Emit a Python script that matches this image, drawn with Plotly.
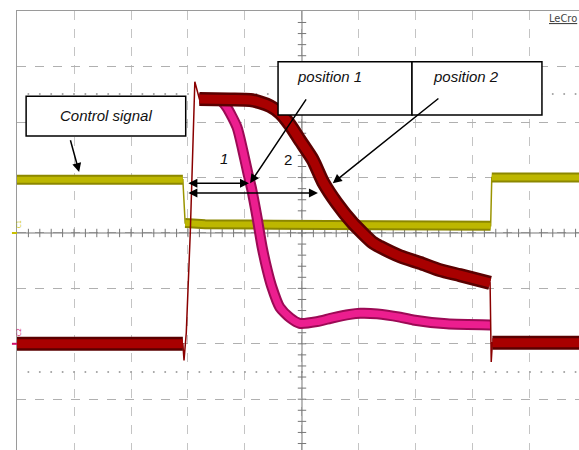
import numpy as np
import plotly.graph_objects as go

# All values in screen divisions: x from the left edge of the grid, y from the centre line
ctrl_high1_x = [0.0, 2.91]
ctrl_high1_y = [0.96, 0.96]
ctrl_low_x = [2.95, 3.3, 4.5, 6.0, 7.5, 8.31]
ctrl_low_y = [0.18, 0.16, 0.15, 0.14, 0.14, 0.13]
ctrl_high2_x = [8.33, 9.86]
ctrl_high2_y = [1.0, 1.0]

ch2_pre_x = [0.0, 2.91]
ch2_pre_y = [-2.0, -2.0]
ch2_rise_x = [2.91, 2.93, 2.97, 3.04, 3.12, 3.2]
ch2_rise_y = [-2.0, -2.3, -1.8, 0.0, 2.73, 2.42]
pos2_x = [3.2, 3.74, 4.09, 4.26, 4.44, 4.61, 4.79, 4.96, 5.19, 5.37, 5.61, 5.89,
          6.25, 6.37, 6.72, 7.07, 7.42, 7.77, 8.30]
pos2_y = [2.42, 2.41, 2.40, 2.36, 2.29, 2.17, 1.95, 1.68, 1.32, 0.92, 0.54, 0.18,
          -0.18, -0.25, -0.42, -0.54, -0.67, -0.76, -0.90]
ch2_drop_x = [8.30, 8.32, 8.34]
ch2_drop_y = [-0.90, -2.33, -1.98]
ch2_post_x = [8.34, 9.86]
ch2_post_y = [-1.98, -1.98]

pos1_x = [3.2, 3.56, 3.68, 3.86, 3.96, 4.05, 4.12, 4.21, 4.30, 4.39, 4.47, 4.61,
          4.79, 4.96, 5.26, 5.54, 5.84, 6.02, 6.32, 6.72, 6.95, 7.54, 8.30]
pos1_y = [2.42, 2.40, 2.27, 1.91, 1.50, 1.08, 0.78, 0.29, -0.25, -0.67, -0.97, -1.34,
          -1.53, -1.63, -1.60, -1.53, -1.47, -1.45, -1.46, -1.52, -1.57, -1.64, -1.66]

marker_levels = [2.51, -2.51]

X_MAX = 9.86
Y_MIN, Y_MAX = -3.917, 4.007


def join(*segs):
    xs, ys = [], []
    for sx, sy in segs:
        xs += list(sx) + [None]
        ys += list(sy) + [None]
    return xs, ys


fig = go.Figure()

# dotted marker levels
minor = np.arange(0.2, X_MAX, 0.2)
for lv in marker_levels:
    fig.add_trace(go.Scatter(x=minor, y=[lv] * len(minor), mode="markers",
                             marker=dict(size=2, color="#a0a0a0"), hoverinfo="skip"))

# centre axes with minor ticks
fig.add_trace(go.Scatter(x=[0, X_MAX], y=[0, 0], mode="lines",
                         line=dict(color="#777777", width=1), hoverinfo="skip"))
fig.add_trace(go.Scatter(x=minor, y=[0] * len(minor), mode="markers",
                         marker=dict(symbol="line-ns", size=6, line=dict(width=1, color="#777777")),
                         hoverinfo="skip"))
fig.add_trace(go.Scatter(x=[5, 5], y=[Y_MIN, Y_MAX], mode="lines",
                         line=dict(color="#777777", width=1), hoverinfo="skip"))
yminor = np.arange(-3.8, 4.0, 0.2)
fig.add_trace(go.Scatter(x=[5] * len(yminor), y=yminor, mode="markers",
                         marker=dict(symbol="line-ew", size=6, line=dict(width=1, color="#777777")),
                         hoverinfo="skip"))

# Control signal (yellow)
cx, cy = join((ctrl_high1_x, ctrl_high1_y), (ctrl_low_x, ctrl_low_y), (ctrl_high2_x, ctrl_high2_y))
tx = ctrl_high1_x + ctrl_low_x + ctrl_high2_x
ty = ctrl_high1_y + ctrl_low_y + ctrl_high2_y
fig.add_trace(go.Scatter(x=tx, y=ty, mode="lines", line=dict(color="#9a9400", width=1.5), hoverinfo="skip"))
fig.add_trace(go.Scatter(x=cx, y=cy, mode="lines", line=dict(color="#8c8700", width=10), hoverinfo="skip"))
fig.add_trace(go.Scatter(x=cx, y=cy, mode="lines", line=dict(color="#bdb700", width=6), hoverinfo="skip"))

# position 1 (magenta)
fig.add_trace(go.Scatter(x=pos1_x, y=pos1_y, mode="lines", line=dict(color="#9c0a55", width=11, shape="spline", smoothing=0.6), hoverinfo="skip"))
fig.add_trace(go.Scatter(x=pos1_x, y=pos1_y, mode="lines", line=dict(color="#ec1e8f", width=7, shape="spline", smoothing=0.6), hoverinfo="skip"))

# position 2 (dark red)
rx, ry = join((ch2_pre_x, ch2_pre_y), (pos2_x, pos2_y), (ch2_post_x, ch2_post_y))
thin_x = ch2_pre_x + ch2_rise_x + pos2_x + ch2_drop_x + ch2_post_x
thin_y = ch2_pre_y + ch2_rise_y + pos2_y + ch2_drop_y + ch2_post_y
fig.add_trace(go.Scatter(x=thin_x, y=thin_y, mode="lines", line=dict(color="#8a0000", width=1.5), hoverinfo="skip"))
fig.add_trace(go.Scatter(x=rx, y=ry, mode="lines", line=dict(color="#5a0000", width=14, shape="spline", smoothing=0.6), hoverinfo="skip"))
fig.add_trace(go.Scatter(x=rx, y=ry, mode="lines", line=dict(color="#a80000", width=9, shape="spline", smoothing=0.6), hoverinfo="skip"))

shapes = [
    dict(type="rect", x0=0.16, x1=2.96, y0=1.75, y1=2.47, line=dict(color="black", width=1.5), fillcolor="white", layer="above"),
    dict(type="rect", x0=4.58, x1=6.93, y0=2.13, y1=3.09, line=dict(color="black", width=1.5), fillcolor="white", layer="above"),
    dict(type="rect", x0=6.93, x1=9.21, y0=2.13, y1=3.09, line=dict(color="black", width=1.5), fillcolor="white", layer="above"),
    # channel offset markers in the left margin
    dict(type="line", xref="paper", yref="y", x0=-0.009, x1=0.0, y0=0, y1=0, line=dict(color="#c8c000", width=2)),
    dict(type="line", xref="paper", yref="y", x0=-0.009, x1=0.0, y0=-2.0, y1=-2.0, line=dict(color="#d0106a", width=2)),
]

font = dict(family="Liberation Sans, Arial, sans-serif", size=15, color="#111111")
annotations = [
    dict(x=1.56, y=2.12, text="<i>Control signal</i>", showarrow=False, font=font),
    dict(x=5.49, y=2.83, text="<i>position 1</i>", showarrow=False, font=font),
    dict(x=7.88, y=2.83, text="<i>position 2</i>", showarrow=False, font=font),
    dict(x=3.63, y=1.35, text="<i>1</i>", showarrow=False, font=font),
    dict(x=4.75, y=1.32, text="2", showarrow=False, font=font),
]
arrows = [
    ((0.93, 1.70), (1.09, 1.10), "end"),
    ((5.09, 2.44), (4.09, 0.90), "end"),
    ((7.42, 2.45), (5.54, 0.90), "end"),
    ((2.98, 0.90), (4.07, 0.90), "end+start"),
    ((2.98, 0.72), (5.28, 0.72), "end+start"),
]
for (x0, y0), (x1, y1), side in arrows:
    annotations.append(dict(x=x1, y=y1, ax=x0, ay=y0, axref="x", ayref="y", text="",
                            showarrow=True, arrowhead=2, arrowsize=1.2, arrowwidth=1.5,
                            arrowcolor="black", arrowside=side))
annotations += [
    dict(xref="paper", yref="paper", x=1.0, y=0.984, xanchor="right", yanchor="middle",
         text="<u>LeCro</u>", showarrow=False,
         font=dict(family="Liberation Sans Narrow, DejaVu Sans Condensed, sans-serif", size=11, color="#444444")),
    dict(xref="paper", yref="y", x=-0.007, y=0.15, text="C1", textangle=-90, showarrow=False,
         font=dict(family="DejaVu Sans", size=6, color="#c8c000")),
    dict(xref="paper", yref="y", x=-0.007, y=-1.8, text="C2", textangle=-90, showarrow=False,
         font=dict(family="DejaVu Sans", size=6, color="#d0106a")),
]

fig.update_layout(
    width=579, height=450,
    margin=dict(l=17, r=0, t=11, b=0),
    paper_bgcolor="white", plot_bgcolor="white",
    showlegend=False,
    shapes=shapes, annotations=annotations,
    xaxis=dict(range=[0, X_MAX], dtick=1, tick0=0, showgrid=True, gridcolor="#c4c4c4",
               griddash="dash", gridwidth=1, zeroline=False, showticklabels=False, ticks="",
               side="top", showline=True, linecolor="#9a9a9a", linewidth=1),
    yaxis=dict(range=[Y_MIN, Y_MAX], dtick=1, tick0=0, showgrid=True, gridcolor="#b0b0b0",
               griddash="dash", gridwidth=1, zeroline=False, showticklabels=False, ticks="",
               showline=True, linecolor="#9a9a9a", linewidth=1),
)

fig.write_html("out.html", config={"displayModeBar": False},
               post_script="document.body.style.margin='0';document.body.style.overflow='hidden';")
